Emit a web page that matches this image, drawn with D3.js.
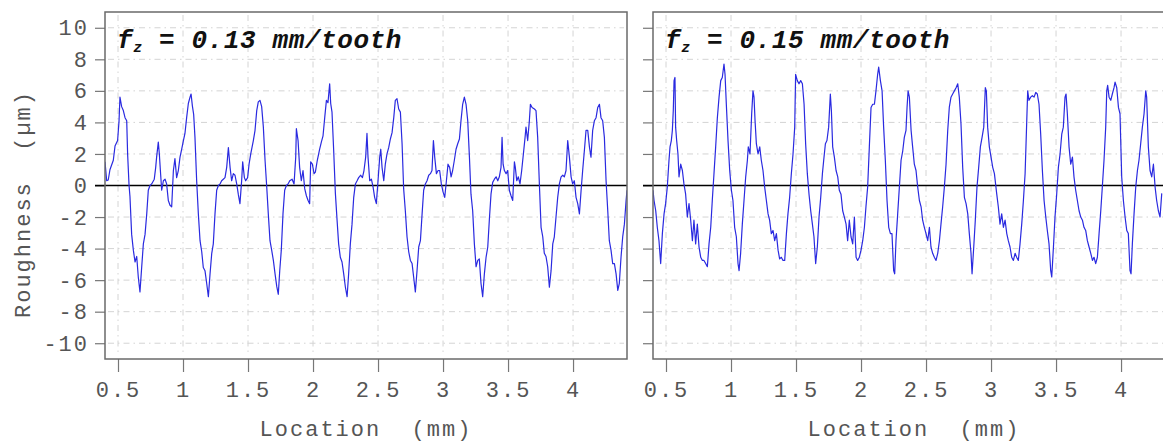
<!DOCTYPE html>
<html><head><meta charset="utf-8">
<script src="https://cdn.jsdelivr.net/npm/d3@7"></script>
<style>
html,body{margin:0;padding:0;background:#fff;}
svg{display:block;}
</style></head>
<body><svg id="chart" width="1163" height="445"></svg>
<script>
// ---------- data ----------
const panelTitles = ["0.13 mm/tooth", "0.15 mm/tooth"];
const xTicks = [0.5, 1, 1.5, 2, 2.5, 3, 3.5, 4];
const xTickLabels = ["0.5", "1", "1.5", "2", "2.5", "3", "3.5", "4"];
const yTicks = [10, 8, 6, 4, 2, 0, -2, -4, -6, -8, -10];
const yTickLabels = ["10", "8", "6", "4", "2", "0", "-2", "-4", "-6", "-8", "-10"];
const xLabel = "Location  (mm)";
const yLabel = "Roughness  (\u00b5m)";

const loc013 = [0.400,0.413,0.425,0.438,0.464,0.477,0.497,0.508,0.515,0.528,0.541,0.554,0.567,0.574,0.585,0.592,0.605,0.618,0.631,0.644,0.656,0.669,0.682,0.695,0.708,0.721,0.733,0.746,0.759,0.779,0.790,0.797,0.810,0.818,0.826,0.836,0.849,0.862,0.874,0.887,0.900,0.913,0.926,0.938,0.951,0.964,0.977,0.990,1.003,1.015,1.028,1.041,1.054,1.062,1.072,1.082,1.092,1.105,1.118,1.131,1.144,1.156,1.169,1.182,1.195,1.208,1.221,1.233,1.246,1.259,1.272,1.285,1.297,1.310,1.323,1.336,1.349,1.362,1.374,1.387,1.400,1.413,1.426,1.438,1.451,1.459,1.472,1.482,1.497,1.508,1.521,1.541,1.554,1.567,1.579,1.592,1.605,1.618,1.631,1.644,1.656,1.669,1.682,1.695,1.708,1.721,1.733,
1.744,1.756,1.769,1.782,1.795,1.808,1.821,1.839,1.854,1.867,1.872,1.885,1.897,1.910,1.923,1.936,1.949,1.962,1.974,1.982,1.995,2.008,2.018,2.033,2.051,2.064,2.077,2.090,2.103,2.115,2.128,2.136,2.146,2.159,2.172,2.185,2.197,2.210,2.223,2.236,2.249,2.262,2.274,2.287,2.300,2.313,2.326,2.339,2.351,2.367,2.380,2.392,2.405,2.415,2.423,2.436,2.449,2.462,2.474,2.487,2.500,2.513,2.521,2.531,2.544,2.556,2.569,2.582,2.595,2.608,2.621,2.633,2.646,2.659,2.672,2.685,2.697,2.710,2.723,2.736,2.749,2.762,2.774,2.787,2.800,2.813,2.826,2.839,2.851,2.864,2.877,2.890,2.903,2.915,2.926,2.936,2.949,2.962,2.974,2.987,3.000,3.013,3.026,3.038,3.051,
3.062,3.074,3.087,3.100,3.113,3.126,3.138,3.151,3.164,3.177,3.190,3.203,3.215,3.228,3.241,3.254,3.267,3.279,3.292,3.305,3.318,3.331,3.344,3.356,3.369,3.382,3.395,3.408,3.421,3.433,3.446,3.454,3.462,3.472,3.485,3.497,3.510,3.523,3.536,3.549,3.556,3.567,3.579,3.592,3.605,3.618,3.631,3.638,3.651,3.664,3.672,3.685,3.703,3.715,3.728,3.741,3.754,3.767,3.779,3.792,3.805,3.818,3.831,3.844,3.856,3.869,3.882,3.895,3.908,3.921,3.933,3.946,3.959,3.972,3.985,3.997,4.010,4.023,4.036,4.049,4.062,4.074,4.087,4.100,4.113,4.126,4.138,4.151,4.164,4.177,4.190,4.203,4.215,4.228,4.241,4.254,4.267,4.279,4.292,4.305,4.318,4.331,4.344,4.356,4.369,4.382,4.395,4.408,4.415];
const rough013 = [1.5,0.3,0.35,1.0,1.6,2.5,2.85,4.1,5.6,5.0,4.75,4.3,4.1,2.0,0,-0.7,-3.1,-4.1,-4.85,-4.5,-5.8,-6.75,-5.2,-3.7,-3.1,-1.8,-0.3,0,0.1,0.4,1.15,1.8,2.75,2.0,0.95,-0.3,0.3,0.4,0.1,-0.95,-1.25,-1.35,0.95,1.7,0.5,0.95,1.8,2.3,2.85,3.3,4.3,5.2,5.6,5.8,5.05,4.5,3.05,0.3,-1.8,-3.5,-4.2,-5.2,-5.4,-6.2,-7.05,-5.6,-4.3,-3.7,-1.8,-0.3,0,0.1,0.3,0.4,0.5,1.15,2.4,1.15,0.3,0.75,0.65,0.1,-0.6,-1.15,0.3,1.5,0.5,0.3,0.5,1.35,2.0,2.85,3.5,4.75,5.3,5.4,5.0,3.7,1.6,-0.1,-1.8,-3.5,-4.1,-4.75,-5.6,-6.4,-6.9,
-5.4,-4.1,-1.8,-0.3,0,0.1,0.3,0.4,0.1,1.8,3.6,2.85,1.15,0.3,0.95,-0.2,-0.65,-0.95,-1.15,1.5,1.35,0.75,0.85,1.6,2.3,2.75,3.15,4.3,5.4,5.25,6.45,5.2,4.65,2.2,-0.5,-2.2,-3.7,-4.55,-4.85,-5.6,-6.45,-7.05,-5.6,-3.7,-2.45,-0.75,0.1,0.3,0.5,0.65,0.5,0.95,1.8,3.3,1.8,0.3,0.4,-0.1,-0.75,-1.15,0.3,1.8,2.3,1.15,0.3,1.35,2.0,2.4,2.95,3.35,4.3,5.4,5.5,4.85,4.65,2.65,-0.2,-1.6,-3.25,-4.2,-4.75,-4.95,-5.8,-6.75,-5.4,-3.9,-3.5,-1.8,-0.3,0.1,0.3,0.65,0.75,0.95,2.85,1.8,0.75,0.95,0.95,0.1,-0.4,-0.75,0.3,1.35,1.15,
0.55,0.95,1.6,2.3,2.65,2.95,4.1,5.15,5.6,5.15,4.1,1.8,-0.55,-1.6,-3.7,-5.15,-4.75,-4.65,-6.2,-7.05,-5.6,-4.55,-3.9,-2.2,-0.55,0.2,0.4,0.55,0.3,0.55,1.15,3.05,1.35,0.95,0.75,0.95,-0.3,-0.65,-0.95,1.5,1.15,0.3,0.55,0.1,0.95,2.0,3.05,3.7,2.85,4.1,5.15,4.95,4.85,4.75,3.05,0.1,-2.65,-3.25,-4.3,-4.5,-5.15,-6.45,-5.4,-3.7,-3.25,-2.0,-0.75,0.1,0.55,0.65,0.55,0.95,2.85,1.8,0.55,0.1,0.3,-0.75,-1.15,-1.8,-0.3,0.95,2.2,3.5,3.5,2.45,1.8,3.5,4.1,4.3,4.95,5.15,4.3,4.1,3.05,0.3,-1.6,-3.5,-4.1,-4.95,-4.95,-5.6,-6.65,-6.2,-4.55,-3.25,-2.45,-0.95,-0.3];

const loc015 = [0.400,0.408,0.421,0.433,0.446,0.459,0.472,0.485,0.497,0.510,0.523,0.531,0.541,0.549,0.556,0.562,0.569,0.574,0.582,0.592,0.600,0.613,0.626,0.638,0.651,0.664,0.677,0.690,0.703,0.715,0.728,0.741,0.754,0.767,0.780,0.792,0.805,0.818,0.831,0.844,0.856,0.869,0.882,0.895,0.908,0.921,0.933,0.946,0.954,0.964,0.977,0.990,1.003,1.015,1.028,1.041,1.054,1.062,1.074,1.087,1.100,1.113,1.126,1.133,1.146,1.159,1.169,1.177,1.185,1.195,1.208,1.221,1.233,1.246,1.259,1.272,1.285,1.297,1.310,1.323,1.336,1.349,1.362,1.374,1.387,1.400,1.413,1.426,1.438,1.451,1.464,1.477,1.490,1.497,1.510,1.523,1.536,1.549,1.562,1.574,1.587,1.600,1.613,1.626,1.638,1.651,1.664,1.677,1.690,1.703,
1.713,1.726,1.738,1.751,1.764,1.772,1.782,1.795,1.808,1.821,1.833,1.846,1.859,1.872,1.885,1.897,1.910,1.923,1.936,1.949,1.962,1.974,1.987,2.000,2.013,2.026,2.038,2.051,2.064,2.077,2.090,2.103,2.115,2.128,2.136,2.149,2.162,2.174,2.187,2.200,2.213,2.226,2.238,2.251,2.259,2.269,2.282,2.295,2.308,2.321,2.333,2.346,2.354,2.362,2.372,2.385,2.397,2.410,2.423,2.436,2.449,2.462,2.474,2.487,2.500,2.513,2.526,2.538,2.551,2.564,2.577,2.590,2.603,2.615,2.628,2.641,2.654,2.667,2.679,2.692,2.705,2.718,2.731,2.744,2.756,2.769,2.782,2.795,2.808,2.821,2.833,2.846,2.854,2.867,2.879,2.892,2.905,2.918,2.931,2.944,2.956,2.964,2.974,2.987,3.000,3.013,3.026,
3.044,3.056,3.069,3.082,3.095,3.108,3.121,3.133,3.146,3.159,3.172,3.185,3.197,3.210,3.223,3.236,3.249,3.262,3.274,3.282,3.292,3.305,3.318,3.331,3.344,3.356,3.369,3.382,3.395,3.408,3.421,3.433,3.446,3.459,3.467,3.480,3.492,3.505,3.518,3.531,3.544,3.556,3.569,3.577,3.587,3.600,3.613,3.626,3.638,3.651,3.664,3.677,3.690,3.703,3.715,3.728,3.741,3.754,3.767,3.780,3.792,3.805,3.818,3.831,3.844,3.856,3.869,3.882,3.890,3.897,3.908,3.921,3.933,3.946,3.954,3.967,3.980,3.992,4.005,4.018,4.031,4.044,4.056,4.069,4.077,4.087,4.100,4.113,4.126,4.138,4.151,4.164,4.177,4.190,4.197,4.210,4.223,4.236,4.249,4.262,4.274,4.287,4.300,4.313];
const rough015 = [-0.3,-0.95,-1.6,-2.65,-3.5,-4.95,-3.05,-1.8,-1.15,-0.1,1.6,2.45,2.85,3.5,4.75,6.65,6.85,3.7,2.85,2.0,0.55,1.35,0.95,0.1,-0.55,-2.0,-1.15,-2.2,-3.5,-2.2,-3.7,-2.45,-3.9,-4.55,-4.75,-4.75,-4.95,-5.15,-3.7,-2.65,-0.95,0.75,2.45,4.3,5.6,6.65,6.85,7.7,7.05,5.15,2.85,0.95,-0.3,-0.95,-2.65,-3.25,-4.95,-5.4,-4.3,-2.45,-0.95,0.55,1.6,2.45,2.0,4.55,6.0,5.6,4.1,2.65,2.0,2.45,1.6,0.95,-0.1,-0.95,-1.8,-2.2,-3.05,-2.85,-3.5,-3.05,-4.1,-4.65,-4.55,-4.75,-4.75,-3.05,-1.8,-0.75,0.75,2.0,3.7,7.05,6.65,6.45,6.65,6.45,5.15,2.65,0.75,-0.55,-1.6,-2.45,-3.25,-4.95,-3.9,-2.0,-0.75,0.75,
1.6,2.65,2.85,3.7,5.8,4.75,2.45,1.8,0.95,0.55,-0.3,-0.55,-1.6,-2.0,-2.45,-3.5,-2.2,-3.25,-3.7,-2.0,-4.55,-4.75,-4.55,-4.1,-3.5,-2.65,-1.35,-0.1,2.45,4.95,5.15,5.15,6.0,7.05,7.5,6.65,6.0,3.7,1.6,-0.95,-2.65,-3.05,-3.05,-5.4,-5.6,-3.5,-1.8,-0.1,1.6,2.2,3.05,3.5,4.95,6.0,5.6,3.5,2.45,1.35,0.95,-0.1,-0.95,-1.35,-2.2,-2.65,-3.05,-3.5,-2.65,-3.9,-4.3,-4.55,-4.75,-4.3,-3.5,-2.45,-1.35,-0.1,1.35,3.5,4.95,5.6,5.8,6.0,6.2,6.45,5.6,3.9,1.15,-0.75,-1.15,-1.8,-3.05,-4.3,-5.6,-3.9,-2.2,-0.1,1.15,2.45,3.05,3.7,6.2,6.0,3.7,2.45,1.8,1.15,0.75,
-0.55,-1.35,-2.45,-1.8,-2.65,-2.2,-3.05,-3.5,-3.9,-4.55,-4.75,-4.3,-4.55,-4.75,-3.7,-2.45,-0.95,0.75,3.9,6.0,5.4,5.6,5.7,5.6,5.9,5.8,5.15,3.25,0.95,-0.95,-2.0,-2.85,-3.7,-5.4,-5.8,-3.9,-2.0,-0.55,1.15,2.0,3.25,3.7,5.6,5.8,4.55,2.45,1.35,1.8,0.55,-0.3,-0.95,-1.6,-2.0,-2.2,-2.65,-2.85,-3.5,-3.9,-4.3,-4.75,-4.55,-4.95,-4.55,-3.05,-1.6,-0.1,1.6,3.7,6.0,6.35,5.6,5.4,5.8,6.2,6.55,6.2,4.95,4.55,0.55,-0.95,-2.0,-2.85,-3.05,-5.4,-5.6,-3.7,-1.8,-0.1,0.95,1.6,2.65,3.7,4.55,6.0,5.6,2.45,0.95,0.55,1.35,-0.1,-0.95,-1.6,-2.0,-0.5];

// ---------- layout ----------
const svg = d3.select("#chart");
const FONT = "'Liberation Mono','Courier New',monospace";
const panels = [
  {left: 105, right: 627, loc: loc013, rough: rough013, title: panelTitles[0], yLabels: true},
  {left: 653, right: 1175, loc: loc015, rough: rough015, title: panelTitles[1], yLabels: false}
];
const plotTop = 12, plotBottom = 359;

panels.forEach((p, i) => {
  const x = d3.scaleLinear().domain([0.4, 4.415]).range([p.left, p.right]);
  const y = d3.scaleLinear().domain([-11, 11]).range([plotBottom, plotTop]);
  const g = svg.append("g");

  const clipId = "clip" + i;
  svg.append("clipPath").attr("id", clipId).append("rect")
    .attr("x", p.left).attr("y", plotTop).attr("width", p.right - p.left).attr("height", plotBottom - plotTop);

  // grid
  const grid = g.append("g").attr("stroke", "#d4d4d4").attr("stroke-width", 1)
    .attr("stroke-dasharray", "6,4,1.5,4").attr("fill", "none");
  yTicks.forEach(v => {
    grid.append("line").attr("x1", p.left + 3).attr("x2", p.right - 3)
      .attr("y1", y(v)).attr("y2", y(v));
  });
  xTicks.forEach(v => {
    grid.append("line").attr("x1", x(v)).attr("x2", x(v))
      .attr("y1", plotTop + 3).attr("y2", plotBottom - 3);
  });

  // y axis ticks
  const yAxis = d3.axisLeft(y).tickValues(yTicks).tickSize(10).tickPadding(6)
    .tickFormat((d, k) => p.yLabels ? yTickLabels[k] : "");
  const ya = g.append("g").attr("transform", `translate(${p.left},0)`).call(yAxis);
  ya.select(".domain").remove();
  ya.selectAll(".tick line").attr("stroke", "#777").attr("stroke-width", 1.2);
  ya.selectAll(".tick text").attr("fill", "#555").style("font-family", FONT)
    .style("font-size", "22px").style("letter-spacing", "2px");

  // x axis ticks
  const xAxis = d3.axisBottom(x).tickValues(xTicks).tickSize(13).tickPadding(9)
    .tickFormat((d, k) => xTickLabels[k]);
  const xa = g.append("g").attr("transform", `translate(0,${plotBottom})`).call(xAxis);
  xa.select(".domain").remove();
  xa.selectAll(".tick line").attr("stroke", "#777").attr("stroke-width", 1.2);
  xa.selectAll(".tick text").attr("fill", "#555").style("font-family", FONT)
    .style("font-size", "22px").style("letter-spacing", "2px");

  // zero line
  g.append("line").attr("x1", p.left - 10).attr("x2", p.right)
    .attr("y1", y(0)).attr("y2", y(0)).attr("stroke", "#000").attr("stroke-width", 1.6);

  // profile line
  const pts = p.loc.map((v, k) => [v, p.rough[k]]);
  g.append("path").datum(pts).attr("clip-path", `url(#${clipId})`)
    .attr("fill", "none").attr("stroke", "#2a2ae0").attr("stroke-width", 1.2)
    .attr("stroke-linejoin", "round")
    .attr("d", d3.line().x(d => x(d[0])).y(d => y(d[1])));

  // frame
  g.append("rect").attr("x", p.left).attr("y", plotTop)
    .attr("width", p.right - p.left).attr("height", plotBottom - plotTop)
    .attr("fill", "none").attr("stroke", "#6a6a6a").attr("stroke-width", 1.5);

  // title
  const t = g.append("text").attr("x", p.left + 12).attr("y", 48)
    .style("font-family", FONT).style("font-weight", "bold").style("font-style", "italic")
    .style("font-size", "26px").style("letter-spacing", "0.6px").attr("fill", "#111");
  t.append("tspan").text("f");
  t.append("tspan").text("z").style("font-size", "15px").attr("dy", 4);
  t.append("tspan").text(" = " + p.title).attr("dy", -4);

  // x label
  g.append("text").attr("x", (p.left + p.right) / 2).attr("y", 436)
    .attr("text-anchor", "middle").style("font-family", FONT).style("font-size", "22px")
    .style("letter-spacing", "2px")
    .attr("fill", "#555").style("white-space", "pre").text(xLabel);
});

// y label
svg.append("text").attr("transform", "translate(30,204) rotate(-90)")
  .attr("text-anchor", "middle").style("font-family", FONT).style("font-size", "22px")
  .style("letter-spacing", "2px")
  .attr("fill", "#555").style("white-space", "pre").text(yLabel);
</script></body></html>
